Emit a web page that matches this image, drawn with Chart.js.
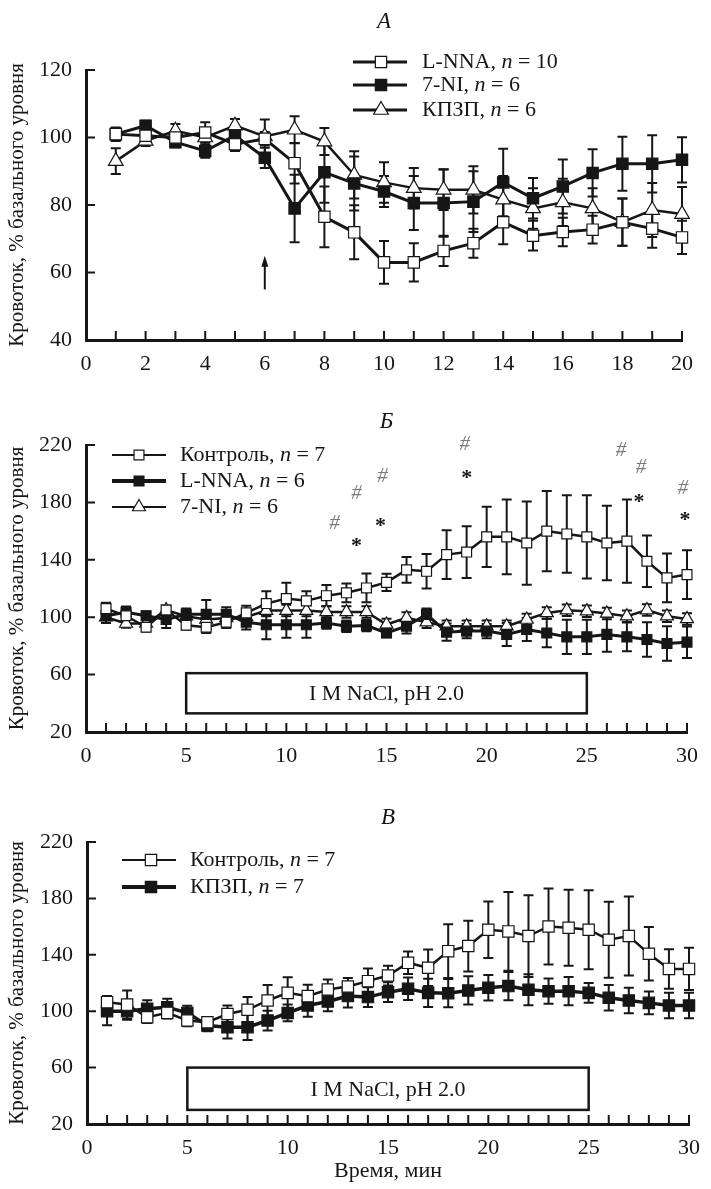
<!DOCTYPE html>
<html>
<head>
<meta charset="utf-8">
<script src="https://cdn.jsdelivr.net/npm/chart.js@4.4.1/dist/chart.umd.min.js"></script>
<style>
  html, body { margin: 0; padding: 0; background: #fff; }
  #wrap { position: relative; width: 711px; height: 1189px; }
  #wrap canvas { position: absolute; left: 0; }
</style>
</head>
<body>
<div id="wrap">
  <canvas id="chartA" width="711" height="385" style="top:0"></canvas>
  <canvas id="chartB" width="711" height="377" style="top:400px"></canvas>
  <canvas id="chartV" width="711" height="389" style="top:800px"></canvas>
</div>
<script>
// ---- Panel A ----
const minutesA = [1, 2, 3, 4, 5, 6, 7, 8, 9, 10, 11, 12, 13, 14, 15, 16, 17, 18, 19, 20];
const lnnaA    = [101, 100.5, 100, 101.5, 98, 99.6, 92.4, 76.5, 71.9, 63, 63, 66.4, 68.7, 74.9, 70.9, 72, 72.7, 74.9, 73, 70.4];
const lnnaAErr = [2, 2, 2, 3, 2, 2, 6, 9, 8, 6.3, 5.7, 4.5, 4.3, 6.5, 4.4, 4.2, 4.1, 7, 5.7, 4.9];
const niA      = [101, 103.5, 98.6, 96, 100.6, 94, 79, 89.7, 86.4, 84, 80.6, 80.6, 81, 86.7, 82, 85.5, 89.5, 92.2, 92.2, 93.4];
const niAErr   = [1.5, 1.5, 1.5, 2, 2, 3, 10, 9, 8, 4.6, 8, 10, 9, 10, 6, 8, 7, 8, 8.5, 6.7];
const kpzpA    = [93, 99, 102, 100, 103.5, 100.3, 102.3, 98.8, 88.9, 86.7, 85, 84.5, 84.5, 81.6, 79, 80.8, 79, 74.9, 78.5, 77.3];
const kpzpAErr = [3.8, 1.5, 2, 2.5, 2, 5, 4, 4, 7, 6, 6, 6, 7, 7, 6, 7, 6, 7, 8, 8];
const arrowA   = { x: 6, from: 55, to: 65 };

// ---- Panel Б ----
const minutes30 = [1, 2, 3, 4, 5, 6, 7, 8, 9, 10, 11, 12, 13, 14, 15, 16, 17, 18, 19, 20, 21, 22, 23, 24, 25, 26, 27, 28, 29, 30];
const ctrlB     = [106, 101, 93, 105, 94.4, 93, 96.5, 103, 109.5, 113, 111.4, 115, 117, 120.4, 124.3, 133, 132, 143.6, 145.4, 156, 156, 151.7, 160, 158, 156, 151.7, 153, 139, 127.4, 129.7];
const ctrlBErr  = [4, 3, 3, 3, 3, 4, 4, 5, 8.6, 11, 6.7, 7.4, 6.5, 10, 6, 9, 12, 17, 18, 21, 26, 29, 28, 27, 29, 26, 29, 18, 17, 17];
const lnnaB     = [101, 103.5, 101, 98.4, 102, 102, 102, 96.5, 94.7, 94.7, 94.7, 96, 93.7, 94.2, 89, 93.7, 102, 89.6, 90.3, 90.3, 88, 91.4, 89, 86.3, 86.3, 88, 86.3, 84.5, 81.7, 82.6];
const lnnaBErr  = [3, 4, 3, 6, 4, 10, 5, 5, 10, 9, 9, 4, 4, 4, 3, 5, 4, 6, 5, 5, 8, 8, 10, 12, 12, 12, 10, 12, 12, 11];
const niB       = [100, 95.6, 95.6, 105, 100.7, 98.4, 99.5, 100.2, 104.6, 104.6, 104.6, 103.7, 103.7, 103.7, 94.9, 99.5, 96.5, 93.7, 93.7, 93.7, 93.7, 98.4, 103, 104.9, 104.2, 102.6, 100.7, 105, 100.7, 98.8];
const niBErr    = [4, 3, 3, 3, 3, 3, 3, 3, 4, 4, 4, 4, 4, 4, 4, 4, 4, 4, 4, 4, 4, 4, 4, 4, 4, 4, 4, 4, 4, 4];
const hashX = [12.4, 13.5, 14.8, 18.9, 26.7, 27.7, 29.8];
const hashY = [165.6, 186, 198, 220.6, 216, 204, 190];
const starX = [13.5, 14.7, 19, 27.6, 29.9];
const starY = [152.9, 166.8, 200.4, 183.7, 170.7];
const boxB  = { x: [5, 25], y: [33, 61], text: 'I M NaCl, pH 2.0' };

// ---- Panel В ----
const ctrlV     = [106.4, 104.7, 95.7, 98.8, 93.4, 92.2, 98, 101, 107.6, 113, 110.7, 115.4, 117.5, 121.3, 125.3, 134.3, 130.8, 142.6, 146.2, 157.8, 156.6, 153.3, 160.1, 159.2, 157.8, 150.7, 153.3, 140.7, 130, 130];
const ctrlVErr  = [4.3, 10, 4, 4, 4, 3, 6, 9, 11, 11, 8, 7, 6, 9, 7, 8, 13, 19, 18, 20, 28, 29, 27, 27, 28, 27, 28, 19, 14, 15];
const kpzpV     = [100, 100, 101.7, 102.8, 98.8, 89.8, 88.6, 88.6, 93.4, 98.8, 104, 106.9, 110.7, 110, 113.5, 115.9, 113, 112.8, 114.7, 116.6, 117.8, 115.2, 114.2, 114.2, 113, 109.5, 107.6, 105.9, 104, 104];
const kpzpVErr  = [10, 6, 6, 6, 5, 4, 8, 9, 7, 6, 8, 7, 8, 7, 7, 8, 10, 10, 10, 9, 10, 11, 9, 10, 7, 9, 9, 8, 9, 9];
const boxV  = { x: [5, 25], y: [30, 60], text: 'I M NaCl, pH 2.0' };

const FONT = "'Liberation Serif', 'DejaVu Serif', serif";
const INK = '#161616';
const YTITLE = 'Кровоток, % базального уровня';

Chart.defaults.font.family = FONT;
Chart.defaults.color = INK;

function pts(xs, ys) {
  return xs.map((x, i) => ({ x: x, y: ys[i] }));
}

function series(label, n, xs, ys, errs, style, filled, r, lw, legendLw) {
  return {
    label: label,
    nCount: n,
    data: pts(xs, ys),
    errors: errs,
    borderColor: INK,
    borderWidth: lw,
    pointStyle: style,
    pointRadius: r,
    pointBorderWidth: 1.2,
    pointBorderColor: INK,
    pointBackgroundColor: filled ? INK : '#fff',
    legendWidth: legendLw,
    tension: 0,
    clip: false
  };
}

function drawMarker(ctx, style, fill, x, y, r) {
  ctx.save();
  ctx.beginPath();
  if (style === 'rect') {
    const s = r * Math.SQRT1_2;
    ctx.rect(x - s, y - s, 2 * s, 2 * s);
  } else {
    const w = r * Math.sin(2 * Math.PI / 3);
    ctx.moveTo(x, y - r);
    ctx.lineTo(x + w, y + r / 2);
    ctx.lineTo(x - w, y + r / 2);
    ctx.closePath();
  }
  ctx.fillStyle = fill;
  ctx.fill();
  ctx.lineWidth = 1.2;
  ctx.strokeStyle = INK;
  ctx.stroke();
  ctx.restore();
}

// error bars under the markers
const errorBars = {
  id: 'errorBars',
  beforeDatasetsDraw(chart) {
    const ctx = chart.ctx;
    const ys = chart.scales.y;
    ctx.save();
    ctx.strokeStyle = INK;
    ctx.lineWidth = 2;
    chart.data.datasets.forEach((ds, di) => {
      const meta = chart.getDatasetMeta(di);
      meta.data.forEach((pt, i) => {
        const e = ds.errors[i];
        const v = ds.data[i].y;
        const top = ys.getPixelForValue(v + e);
        const bot = ys.getPixelForValue(v - e);
        ctx.beginPath();
        ctx.moveTo(pt.x, top); ctx.lineTo(pt.x, bot);
        ctx.moveTo(pt.x - 5, top); ctx.lineTo(pt.x + 5, top);
        ctx.moveTo(pt.x - 5, bot); ctx.lineTo(pt.x + 5, bot);
        ctx.stroke();
      });
    });
    ctx.restore();
  }
};

// inner tick marks, titles, legends, boxes, notes
const deco = {
  id: 'deco',
  afterDraw(chart, args, opts) {
    const ctx = chart.ctx;
    const xs = chart.scales.x, ys = chart.scales.y;
    const area = chart.chartArea;
    ctx.save();
    ctx.strokeStyle = INK;
    ctx.fillStyle = INK;

    // tick marks pointing inward
    ctx.lineWidth = 2;
    ctx.beginPath();
    opts.xMarks.forEach(v => {
      const px = xs.getPixelForValue(v);
      ctx.moveTo(px, area.bottom); ctx.lineTo(px, area.bottom - 9);
    });
    opts.yMarks.forEach(v => {
      const py = ys.getPixelForValue(v);
      ctx.moveTo(area.left, py); ctx.lineTo(area.left + 9, py);
    });
    ctx.stroke();

    // panel letter
    ctx.font = `italic 23px ${FONT}`;
    ctx.textAlign = 'center';
    ctx.textBaseline = 'middle';
    ctx.fillText(opts.letter, (area.left + area.right) / 2, opts.letterY);

    // legend
    const lg = opts.legend;
    chart.data.datasets.forEach((ds, i) => {
      const y = lg.rows[i];
      ctx.lineWidth = ds.legendWidth;
      ctx.beginPath();
      ctx.moveTo(lg.x1, y); ctx.lineTo(lg.x2, y);
      ctx.stroke();
      drawMarker(ctx, ds.pointStyle, ds.pointBackgroundColor, lg.mx, y, ds.pointRadius);
      let x = lg.tx;
      ctx.textAlign = 'left';
      ctx.font = `22px ${FONT}`;
      const a = ds.label + ', ';
      ctx.fillText(a, x, y); x += ctx.measureText(a).width;
      ctx.font = `italic 22px ${FONT}`;
      ctx.fillText('n', x, y); x += ctx.measureText('n').width;
      ctx.font = `22px ${FONT}`;
      ctx.fillText(' = ' + ds.nCount, x, y);
    });

    // stimulus box
    if (opts.box) {
      const b = opts.box;
      const x0 = xs.getPixelForValue(b.x[0]), x1 = xs.getPixelForValue(b.x[1]);
      const y0 = ys.getPixelForValue(b.y[1]), y1 = ys.getPixelForValue(b.y[0]);
      ctx.lineWidth = 2.5;
      ctx.strokeRect(x0, y0, x1 - x0, y1 - y0);
      ctx.font = `22px ${FONT}`;
      ctx.textAlign = 'center';
      ctx.fillText(b.text, (x0 + x1) / 2, (y0 + y1) / 2 + 1);
    }

    // arrow
    if (opts.arrow) {
      const a = opts.arrow;
      const px = xs.getPixelForValue(a.x);
      const yb = ys.getPixelForValue(a.from), yt = ys.getPixelForValue(a.to);
      ctx.lineWidth = 2;
      ctx.beginPath();
      ctx.moveTo(px, yb); ctx.lineTo(px, yt + 6);
      ctx.stroke();
      ctx.beginPath();
      ctx.moveTo(px, yt); ctx.lineTo(px - 3.5, yt + 11); ctx.lineTo(px + 3.5, yt + 11);
      ctx.closePath();
      ctx.fill();
    }

    // significance notes
    if (opts.hash) {
      ctx.textAlign = 'center';
      ctx.fillStyle = '#7a7a7a';
      ctx.font = `italic 21px ${FONT}`;
      opts.hash.x.forEach((v, i) => {
        ctx.fillText('#', xs.getPixelForValue(v), ys.getPixelForValue(opts.hash.y[i]));
      });
      ctx.fillStyle = INK;
      ctx.font = `bold 22px ${FONT}`;
      opts.star.x.forEach((v, i) => {
        ctx.fillText('*', xs.getPixelForValue(v), ys.getPixelForValue(opts.star.y[i]) + 5);
      });
    }
    ctx.restore();
  }
};

function axes(xMax, xStep, yMin, yMax, yStep, yWidth, xHeight, xTitle) {
  const tickFont = { family: FONT, size: 22 };
  return {
    x: {
      type: 'linear', min: 0, max: xMax,
      ticks: { stepSize: xStep, font: tickFont, color: INK, padding: 11, maxRotation: 0, autoSkip: false },
      grid: { display: false, drawTicks: false },
      border: { display: true, width: 3, color: INK },
      title: xTitle ? { display: true, text: xTitle, font: { family: FONT, size: 22 }, color: INK, padding: { top: 0, bottom: 5 } } : { display: false },
      afterFit(s) { s.height = xHeight; }
    },
    y: {
      min: yMin, max: yMax,
      ticks: { stepSize: yStep, font: tickFont, color: INK, padding: 14 },
      grid: { display: false, drawTicks: false },
      border: { display: true, width: 3, color: INK },
      title: { display: true, text: YTITLE, font: { family: FONT, size: 21 }, color: INK, padding: { top: 5, bottom: 0 } },
      afterFit(s) { s.width = yWidth; }
    }
  };
}

function makeChart(id, datasets, scales, padding, decoOpts) {
  return new Chart(document.getElementById(id), {
    type: 'line',
    data: { datasets: datasets },
    options: {
      responsive: false,
      animation: false,
      events: [],
      layout: { padding: padding },
      scales: scales,
      plugins: { legend: { display: false }, tooltip: { enabled: false }, deco: decoOpts }
    },
    plugins: [errorBars, deco]
  });
}

makeChart('chartA',
  [
    series('L-NNA', 10, minutesA, lnnaA, lnnaAErr, 'rect', false, 8, 3, 3),
    series('7-NI', 6, minutesA, niA, niAErr, 'rect', true, 8, 3, 3),
    series('КПЗП', 6, minutesA, kpzpA, kpzpAErr, 'triangle', false, 8.5, 2.5, 3)
  ],
  axes(20, 2, 40, 120, 20, 86, 45, null),
  { top: 70, right: 29, left: 0, bottom: 0 },
  {
    letter: 'А', letterY: 22,
    xMarks: minutesA, yMarks: [60, 80, 100, 120],
    legend: { x1: 353, x2: 407, mx: 381, tx: 422, rows: [62, 85, 110] },
    arrow: arrowA
  });

makeChart('chartB',
  [
    series('Контроль', 7, minutes30, ctrlB, ctrlBErr, 'rect', false, 7, 2.5, 2),
    series('L-NNA', 6, minutes30, lnnaB, lnnaBErr, 'rect', true, 7, 3, 4),
    series('7-NI', 6, minutes30, niB, niBErr, 'triangle', false, 7.5, 2.5, 2)
  ],
  axes(30, 5, 20, 220, 40, 86, 45, null),
  { top: 45, right: 24, left: 0, bottom: 0 },
  {
    letter: 'Б', letterY: 22,
    xMarks: minutes30, yMarks: [60, 100, 140, 180, 220],
    legend: { x1: 112, x2: 166, mx: 139, tx: 180, rows: [55, 81, 107] },
    box: boxB,
    hash: { x: hashX, y: hashY },
    star: { x: starX, y: starY }
  });

makeChart('chartV',
  [
    series('Контроль', 7, minutes30, ctrlV, ctrlVErr, 'rect', false, 8, 2.5, 2),
    series('КПЗП', 7, minutes30, kpzpV, kpzpVErr, 'rect', true, 8, 3.5, 4)
  ],
  axes(30, 5, 20, 220, 40, 87, 65, 'Время, мин'),
  { top: 42, right: 15, left: 0, bottom: 0 },
  {
    letter: 'В', letterY: 18,
    xMarks: minutes30, yMarks: [60, 100, 140, 180, 220],
    legend: { x1: 122, x2: 176, mx: 151, tx: 190, rows: [60, 87] },
    box: boxV
  });
</script>
</body>
</html>
